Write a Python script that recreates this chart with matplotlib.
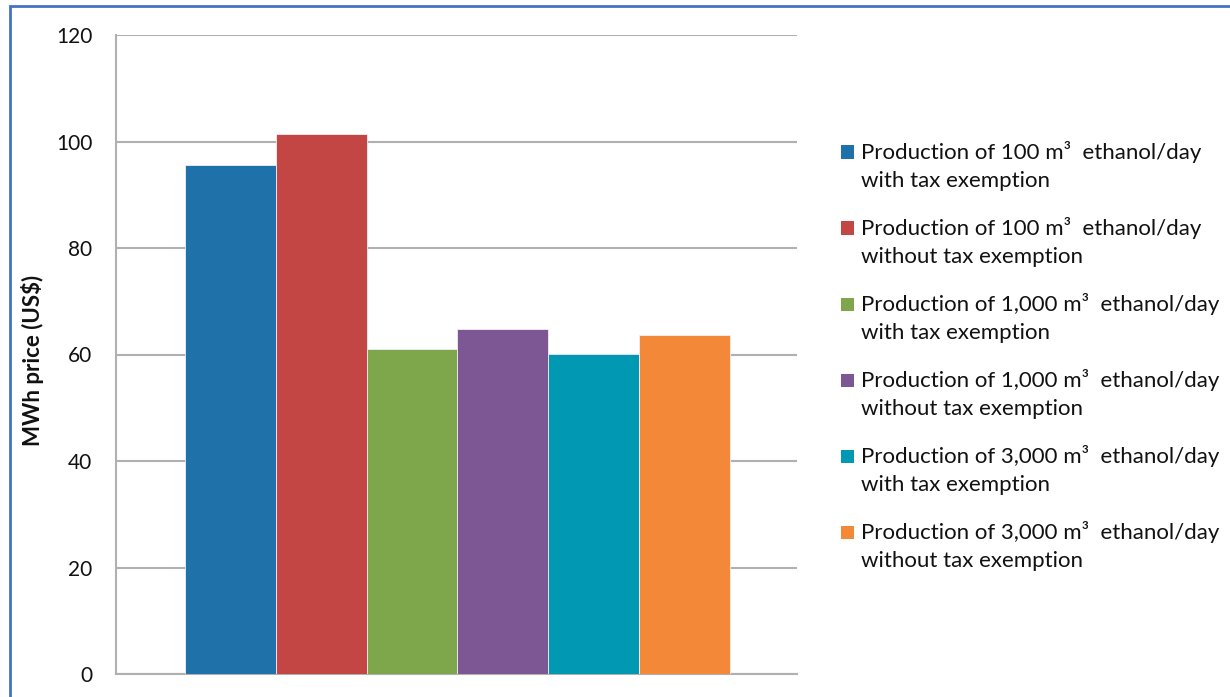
import matplotlib
matplotlib.use("Agg")
import matplotlib.pyplot as plt
from matplotlib.patches import Rectangle

plt.rcParams['font.family'] = ['Lato', 'DejaVu Sans']

# Data
series_labels = [
    "Production of 100 m\u00b3  ethanol/day\nwith tax exemption",
    "Production of 100 m\u00b3  ethanol/day\nwithout tax exemption",
    "Production of 1,000 m\u00b3  ethanol/day\nwith tax exemption",
    "Production of 1,000 m\u00b3  ethanol/day\nwithout tax exemption",
    "Production of 3,000 m\u00b3  ethanol/day\nwith tax exemption",
    "Production of 3,000 m\u00b3  ethanol/day\nwithout tax exemption",
]
mwh_price = [95.5, 101.5, 61.0, 64.8, 60.1, 63.7]
colors = ['#1f72a9', '#c34544', '#7ea64a', '#7d5694', '#0198b3', '#f38839']
y_ticks = [0, 20, 40, 60, 80, 100, 120]

W, H = 1230, 697
fig = plt.figure(figsize=(W / 100, H / 100), dpi=100)
fig.patch.set_facecolor('white')

ax = fig.add_axes([116 / W, 1 - 674 / H, (797 - 116) / W, (674 - 35) / H])
positions = list(range(len(mwh_price)))
ax.bar(positions, mwh_price, width=1.0, color=colors,
       edgecolor='#f4eef4', linewidth=0.6, zorder=3)

ax.set_xlim(-1.26, 6.24)
ax.set_ylim(0, 120)
ax.set_yticks(y_ticks)
ax.set_yticklabels([str(t) for t in y_ticks], fontsize=15, color='#111111')
ax.tick_params(axis='y', length=0, pad=17)
ax.set_xticks([])
ax.grid(axis='y', color='#b0b0b0', linewidth=1.5, zorder=0)
for side in ['top', 'right']:
    ax.spines[side].set_visible(False)
for side in ['left', 'bottom']:
    ax.spines[side].set_color('#b0b0b0')
    ax.spines[side].set_linewidth(1.5)

fig.text(33 / W, 1 - 360 / H, "MWh price (US$)", rotation=90,
         ha='center', va='center', fontsize=16, fontweight='bold',
         color='#111111')

# Legend drawn beside the plot area
y0 = 152
step = 76
line_gap = 29
for i, (lab, c) in enumerate(zip(series_labels, colors)):
    yc = y0 + i * step
    fig.patches.append(Rectangle((841 / W, 1 - (yc + 6.5) / H), 13 / W, 13 / H,
                                 transform=fig.transFigure, facecolor=c,
                                 edgecolor='none'))
    first, second = lab.split("\n")
    fig.text(861 / W, 1 - yc / H, first, ha='left', va='center',
             fontsize=16, color='#111111')
    fig.text(861 / W, 1 - (yc + line_gap) / H, second, ha='left', va='center',
             fontsize=16, color='#111111')

# Outer frame, open to the right and bottom
top = 1 - 6 / H
fig.patches.append(Rectangle((10 / W, -0.2), 1.2, top + 0.2,
                             transform=fig.transFigure, facecolor='none',
                             edgecolor='#4472c4', linewidth=2))

fig.savefig("out.png", dpi=100)
